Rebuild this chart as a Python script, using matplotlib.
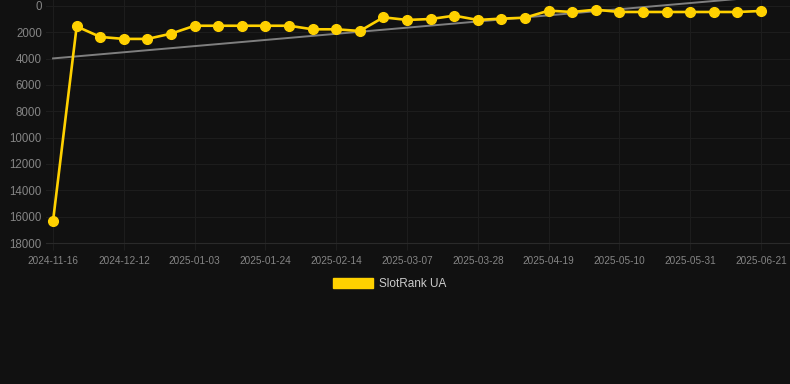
import numpy as np
import matplotlib
matplotlib.use("Agg")
import matplotlib.pyplot as plt
from matplotlib.patches import Patch

# ── Data ──────────────────────────────────────────────────────────────────────
dates = [
    "2024-11-16", "2024-11-25", "2024-12-03", "2024-12-12", "2024-12-19",
    "2024-12-26", "2025-01-03", "2025-01-10", "2025-01-17", "2025-01-24",
    "2025-01-31", "2025-02-07", "2025-02-14", "2025-02-21", "2025-02-28",
    "2025-03-07", "2025-03-14", "2025-03-21", "2025-03-28", "2025-04-04",
    "2025-04-12", "2025-04-19", "2025-04-26", "2025-05-03", "2025-05-10",
    "2025-05-17", "2025-05-24", "2025-05-31", "2025-06-07", "2025-06-14",
    "2025-06-21",
]
rank = [
    16300, 1550, 2350, 2500, 2500, 2100, 1500, 1500, 1500, 1500,
    1500, 1770, 1770, 1900, 860, 1060, 990, 735, 1060, 960,
    890, 355, 455, 280, 455, 455, 455, 455, 455, 455,
    380,
]
series_name = "SlotRank UA"
y_ticks = list(range(0, 18001, 2000))

# ── Style ─────────────────────────────────────────────────────────────────────
BG = "#111111"
GRID = "#1d1d1d"
TICK = "#858585"
YELLOW = "#FFD100"
plt.rcParams["font.family"] = ["Liberation Sans", "DejaVu Sans"]

W, H = 790, 384
fig = plt.figure(figsize=(W / 100, H / 100), dpi=100, facecolor=BG)
ax = fig.add_axes([46 / W, 1 - 243 / H, (W - 46) / W, 243 / H])
ax.set_facecolor(BG)

x = np.arange(len(rank))
y = np.array(rank, dtype=float)

# linear trend
k, b = np.polyfit(x, y, 1)
ax.plot(x, k * x + b, color="#7f7f7f", lw=1.4, zorder=2, clip_on=False)

ax.plot(x, y, color=YELLOW, lw=1.9, marker="o", ms=7, mec=YELLOW, mfc=YELLOW,
        zorder=3, clip_on=False)

ax.set_xlim(-0.3, 30 + 29 / 23.6)
ax.set_ylim(18000, -455)
ax.set_yticks(y_ticks)
ax.set_yticklabels([str(v) for v in y_ticks])
xt = x[::3]
ax.set_xticks(xt)
ax.set_xticklabels([dates[i] for i in xt])

ax.grid(True, color=GRID, lw=0.8)
ax.set_axisbelow(True)
for s in ["top", "right", "left"]:
    ax.spines[s].set_visible(False)
ax.spines["bottom"].set_color("#2a2a2a")
ax.tick_params(axis="y", length=0, pad=3, labelsize=8.3, labelcolor=TICK)
ax.tick_params(axis="x", length=5, color=GRID, pad=4, labelsize=7.2, labelcolor=TICK)

fig.legend(handles=[Patch(facecolor=YELLOW, edgecolor=YELLOW, label=series_name)],
           loc="center", bbox_to_anchor=(390 / W, 1 - 284 / H), frameon=False,
           fontsize=8.5, labelcolor="#cccccc", handlelength=3.4, handleheight=0.9,
           handletextpad=0.5)

fig.savefig("out.png", dpi=100, facecolor=BG)
